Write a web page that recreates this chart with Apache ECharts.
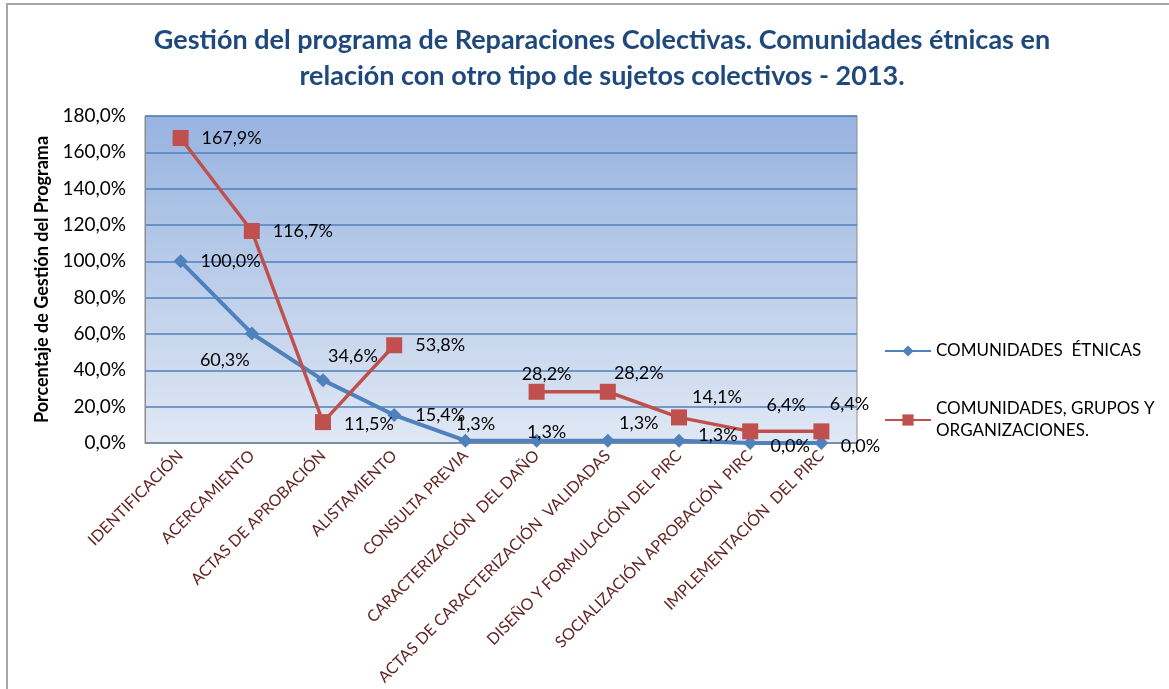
<!DOCTYPE html>
<html>
<head>
<meta charset="utf-8">
<script src="https://cdn.jsdelivr.net/npm/echarts@6/dist/echarts.min.js"></script>
<style>
  html, body { margin: 0; padding: 0; background: #fff; }
  #chart { width: 1169px; height: 689px; }
</style>
</head>
<body>
<div id="chart"></div>
<script>
// data
const categories = [
  'IDENTIFICACIÓN', 'ACERCAMIENTO', 'ACTAS DE APROBACIÓN', 'ALISTAMIENTO',
  'CONSULTA PREVIA', 'CARACTERIZACIÓN  DEL DAÑO', 'ACTAS DE CARACTERIZACIÓN  VALIDADAS',
  'DISEÑO Y FORMULACIÓN DEL PIRC', 'SOCIALIZACIÓN APROBACIÓN  PIRC', 'IMPLEMENTACIÓN  DEL PIRC'
]
const etnicas = [100.0, 60.3, 34.6, 15.4, 1.3, 1.3, 1.3, 1.3, 0.0, 0.0]
const grupos = [167.9, 116.7, 11.5, 53.8, null, 28.2, 28.2, 14.1, 6.4, 6.4]
const yTicks = { min: 0, max: 180, interval: 20 }

// label offsets (label centre relative to the point)
const etnicasLabelOffset = [[50, 0], [-27, 27], [30, -24], [46, 0], [10, -16], [10, -8], [31, -17], [39, -5], [40, 3], [39, 3]]
const gruposLabelOffset = [[51, 0], [51, 0], [46, 2], [46, 0], [0, 0], [10, -18], [31, -19], [38, -20], [36, -26], [28, -27]]

const pct = v => v.toFixed(1).replace('.', ',') + '%'

const withLabels = (values, offsets) => values.map((v, i) => ({
  value: v,
  label: { offset: offsets[i] }
}))

const chart = echarts.init(document.getElementById('chart'), null, { renderer: 'canvas' })

const labelStyle = {
  show: true,
  position: 'inside',
  color: '#000',
  fontFamily: 'Lato',
  fontSize: 18,
  formatter: p => pct(p.value)
}

chart.setOption({
  backgroundColor: '#fff',
  animation: false,
  graphic: [{
    type: 'rect',
    shape: { x: 7, y: 4, width: 1300, height: 900 },
    style: { fill: 'none', stroke: '#a6a6a6', lineWidth: 2 },
    silent: true
  }],
  title: {
    text: 'Gestión del programa de Reparaciones Colectivas. Comunidades étnicas en\nrelación con otro tipo de sujetos colectivos - 2013.',
    left: 597,
    top: 17,
    textAlign: 'center',
    textStyle: {
      fontFamily: 'Lato',
      fontWeight: 'bold',
      fontSize: 27,
      lineHeight: 36,
      color: '#1F497D'
    }
  },
  legend: {
    orient: 'vertical',
    left: 879,
    top: 335,
    itemWidth: 46,
    itemHeight: 14,
    itemGap: 36,
    textStyle: { fontFamily: 'Lato', fontSize: 17, color: '#000', lineHeight: 22 },
    formatter: name => name.replace('GRUPOS Y ', 'GRUPOS Y\n'),
    data: ['COMUNIDADES  ÉTNICAS', 'COMUNIDADES, GRUPOS Y ORGANIZACIONES.']
  },
  grid: {
    left: 145,
    top: 116,
    width: 712,
    height: 327,
    show: true,
    borderColor: '#8c8c8c',
    borderWidth: 1,
    backgroundColor: new echarts.graphic.LinearGradient(0, 0, 0, 1, [
      { offset: 0, color: '#97B3E0' },
      { offset: 1, color: '#E0E8F4' }
    ])
  },
  xAxis: {
    type: 'category',
    data: categories,
    boundaryGap: true,
    axisLine: { lineStyle: { color: '#8c8c8c', width: 1 } },
    axisTick: { show: false },
    axisLabel: {
      interval: 0,
      rotate: 45,
      margin: 10,
      fontFamily: 'Lato',
      fontSize: 16,
      color: '#632523'
    }
  },
  yAxis: {
    type: 'value',
    min: yTicks.min,
    max: yTicks.max,
    interval: yTicks.interval,
    name: 'Porcentaje de Gestión del Programa',
    nameLocation: 'middle',
    nameGap: 90,
    nameTextStyle: { fontFamily: 'Lato', fontWeight: 'bold', fontSize: 18, color: '#000' },
    axisLine: { show: true, lineStyle: { color: '#8c8c8c' } },
    axisTick: { show: false },
    axisLabel: {
      margin: 19,
      fontFamily: 'Lato',
      fontSize: 19,
      color: '#000',
      formatter: v => pct(v)
    },
    splitLine: { lineStyle: { color: '#4F81BD', width: 1.5 } }
  },
  series: [
    {
      name: 'COMUNIDADES  ÉTNICAS',
      type: 'line',
      data: withLabels(etnicas, etnicasLabelOffset),
      symbol: 'diamond',
      symbolSize: 14,
      lineStyle: { color: '#4F81BD', width: 4 },
      itemStyle: { color: '#4F81BD' },
      label: labelStyle
    },
    {
      name: 'COMUNIDADES, GRUPOS Y ORGANIZACIONES.',
      type: 'line',
      data: withLabels(grupos, gruposLabelOffset),
      connectNulls: false,
      symbol: 'rect',
      symbolSize: 16,
      lineStyle: { color: '#C0504D', width: 3.5 },
      itemStyle: { color: '#C0504D' },
      label: labelStyle
    }
  ]
})
</script>
</body>
</html>
